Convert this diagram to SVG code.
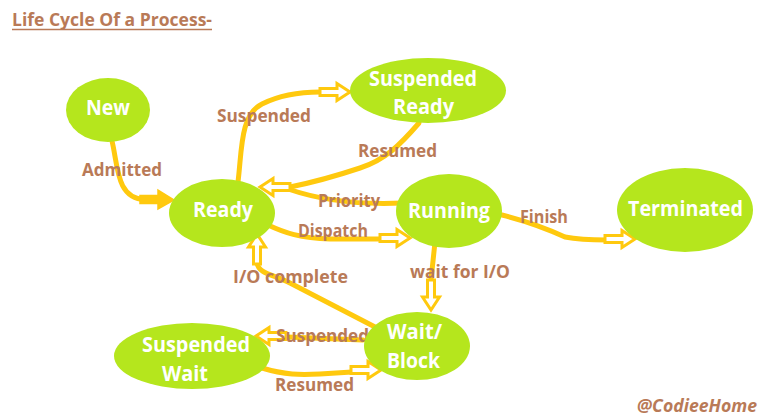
<svg xmlns="http://www.w3.org/2000/svg" width="769" height="417" viewBox="0 0 769 417">
<style>
.node{fill:#b5e61d}
.nt{font-family:"Open Sans","Noto Sans",sans-serif;font-weight:bold;font-size:21px;fill:#ffffff}
.lb{font-family:"Open Sans","Noto Sans",sans-serif;font-weight:bold;font-size:18px;fill:#b97a57}
.ln{fill:none;stroke:#ffc90e;stroke-width:5;stroke-linecap:round;stroke-linejoin:round}
.ah{fill:#ffffff;stroke:#ffc90e;stroke-width:3;stroke-linejoin:miter}
</style>
<defs>
<path id="arr" class="ah" d="M-30,-3.5 L-13,-3.5 L-13,-8.5 L0,0 L-13,8.5 L-13,3.5 L-30,3.5 Z"/>
</defs>
<rect width="769" height="417" fill="#ffffff"/>
<g id="title">
<text x="12" y="26" font-family="Open Sans, Noto Sans, sans-serif" font-weight="bold" font-size="17" fill="#b97a57" textLength="200" lengthAdjust="spacingAndGlyphs">Life Cycle Of a Process-</text>
<line x1="12" y1="29.5" x2="212" y2="29.5" stroke="#b97a57" stroke-width="1.5"/>
</g>
<g id="connectors">
<path class="ln" d="M112,141 C118,165 116,199 145,199.5"/>
<path class="ln" d="M238,182 C242,150 240,115 262,104 C280,95 300,92 320,92"/>
<path class="ln" d="M419,123 C400,145 385,160 360,168 C330,178 310,183 290,187"/>
<path class="ln" d="M403,203 C360,205 320,200 288,189"/>
<path class="ln" d="M268,225 C285,233 300,238 330,239 L380,239"/>
<path class="ln" d="M502,215 C530,222 550,230 565,237 C580,240 595,240 607,240"/>
<path class="ln" d="M435,242 L431,280"/>
<path class="ln" d="M377,328 L290,283 C272,274 259,274 257,263"/>
<path class="ln" d="M363,340 L287,337"/>
<path class="ln" d="M262,368 C285,375 300,375 320,374 L352,372"/>
<path d="M140,195.5 L158,195.5 L158,190 L174,200 L158,209 L158,203.5 L140,203.5 Z" fill="#ffc90e" stroke="#ffc90e" stroke-width="1.5" stroke-linejoin="miter"/>
<use href="#arr" transform="translate(350,92)"/>
<use href="#arr" transform="translate(260,187) rotate(180)"/>
<use href="#arr" transform="translate(410,238)"/>
<use href="#arr" transform="translate(635,239)"/>
<use href="#arr" transform="translate(431,310) rotate(90)"/>
<use href="#arr" transform="translate(257,234) rotate(-90)"/>
<use href="#arr" transform="translate(256,336) rotate(180)"/>
<use href="#arr" transform="translate(381,370)"/>
</g>
<g id="labels">
<text class="lb" x="82" y="176" textLength="80" lengthAdjust="spacingAndGlyphs">Admitted</text>
<text class="lb" x="217" y="122" textLength="94" lengthAdjust="spacingAndGlyphs">Suspended</text>
<text class="lb" x="358" y="157" textLength="79" lengthAdjust="spacingAndGlyphs">Resumed</text>
<text class="lb" x="318" y="207" textLength="62" lengthAdjust="spacingAndGlyphs">Priority</text>
<text class="lb" x="298" y="237" textLength="70" lengthAdjust="spacingAndGlyphs">Dispatch</text>
<text class="lb" x="520" y="223" textLength="48" lengthAdjust="spacingAndGlyphs">Finish</text>
<text class="lb" x="410" y="278" textLength="100" lengthAdjust="spacingAndGlyphs">wait for I/O</text>
<text class="lb" x="233" y="283" textLength="115" lengthAdjust="spacingAndGlyphs">I/O complete</text>
<text class="lb" x="276" y="342" textLength="93" lengthAdjust="spacingAndGlyphs">Suspended</text>
<text class="lb" x="275" y="391" textLength="79" lengthAdjust="spacingAndGlyphs">Resumed</text>
<text class="lb" x="637" y="412" font-style="italic" textLength="120" lengthAdjust="spacingAndGlyphs">@CodieeHome</text>
</g>
<g id="node-new">
<ellipse class="node" cx="108" cy="110" rx="42" ry="32"/>
<text class="nt" x="86" y="115" textLength="44" lengthAdjust="spacingAndGlyphs">New</text>
</g>
<g id="node-ready">
<ellipse class="node" cx="222" cy="213" rx="53" ry="34"/>
<text class="nt" x="193" y="217" textLength="60" lengthAdjust="spacingAndGlyphs">Ready</text>
</g>
<g id="node-suspended-ready">
<ellipse class="node" cx="428" cy="90.5" rx="78" ry="32.5"/>
<text class="nt" x="369" y="86" textLength="108" lengthAdjust="spacingAndGlyphs">Suspended</text>
<text class="nt" x="393" y="114" textLength="61" lengthAdjust="spacingAndGlyphs">Ready</text>
</g>
<g id="node-running">
<ellipse class="node" cx="449" cy="211" rx="53" ry="37"/>
<text class="nt" x="408" y="218" textLength="82" lengthAdjust="spacingAndGlyphs">Running</text>
</g>
<g id="node-terminated">
<ellipse class="node" cx="685" cy="210" rx="68" ry="42"/>
<text class="nt" x="628" y="216" textLength="115" lengthAdjust="spacingAndGlyphs">Terminated</text>
</g>
<g id="node-wait-block">
<ellipse class="node" cx="417" cy="346" rx="53" ry="34"/>
<text class="nt" x="387" y="339" textLength="55" lengthAdjust="spacingAndGlyphs">Wait/</text>
<text class="nt" x="387" y="368" textLength="53" lengthAdjust="spacingAndGlyphs">Block</text>
</g>
<g id="node-suspended-wait">
<ellipse class="node" cx="192" cy="356" rx="78" ry="33"/>
<text class="nt" x="142" y="352" textLength="108" lengthAdjust="spacingAndGlyphs">Suspended</text>
<text class="nt" x="162" y="381" textLength="46" lengthAdjust="spacingAndGlyphs">Wait</text>
</g>
</svg>
